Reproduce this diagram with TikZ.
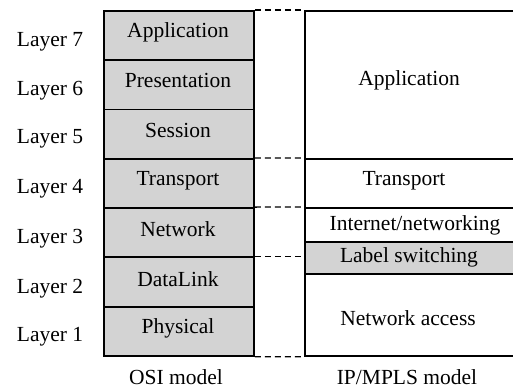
\documentclass[tikz,border=0pt]{standalone}
\usepackage{fontspec}
\setmainfont{Liberation Serif}
\definecolor{boxgray}{RGB}{211,211,211}
\begin{document}
\begin{tikzpicture}[x=1pt,y=-1pt,
  every node/.style={font=\fontsize{21.5}{25}\selectfont, text=black},
  osibox/.style={draw, line width=1.8pt, fill=boxgray, minimum width=150pt, minimum height=49.3pt, inner sep=0pt, anchor=north west},
  ipbox/.style={draw, line width=1.8pt, minimum width=212pt, inner sep=0pt, anchor=north west},
  dashlink/.style={dashed, line width=1.3pt, dash pattern=on 6pt off 4pt}]
\useasboundingbox (0,0) rectangle (513,388);
% OSI stack
\node[osibox] (l7) at (103,10) {};
\node[osibox] (l6) at (103,59.3) {};
\node[osibox] (l5) at (103,108.6) {};
\node[osibox] (l4) at (103,157.9) {};
\node[osibox] (l3) at (103,207.1) {};
\node[osibox] (l2) at (103,256.4) {};
\node[osibox] (l1) at (103,305.7) {};
\node (t7) at (178,32) {Application};
\node (t6) at (178,80) {Presentation};
\node (t5) at (178,130) {Session};
\node (t4) at (178,181) {Transport};
\node (t3) at (178,229) {Network};
\node (t2) at (178,279) {DataLink};
\node (t1) at (178,328) {Physical};
% layer labels
\node (n7) at (50,42) {Layer 7};
\node (n6) at (50,91) {Layer 6};
\node (n5) at (50,139) {Layer 5};
\node (n4) at (50,189) {Layer 4};
\node (n3) at (50,239) {Layer 3};
\node (n2) at (50,289) {Layer 2};
\node (n1) at (50,337) {Layer 1};
% IP/MPLS stack
\node[ipbox, minimum height=148pt] (rapp) at (304,10) {};
\node[ipbox, minimum height=49pt] (rtr) at (304,158) {};
\node[ipbox, minimum height=34pt] (rnet) at (304,207) {};
\node[ipbox, minimum height=32pt, fill=boxgray] (rlab) at (304,241) {};
\node[ipbox, minimum height=82pt] (racc) at (304,273) {};
\node (ta) at (409,80) {Application};
\node (tt) at (404,181) {Transport};
\node (tn) at (415,225) {Internet/networking};
\node (tl) at (409,257) {Label switching};
\node (tc) at (408,318) {Network access};
% dashed links
\draw[dashlink] (l7.north east) -- (rapp.north west);
\draw[dashlink] (l4.north east) -- (rtr.north west);
\draw[dashlink] (l3.north east) -- (rnet.north west);
\draw[dashlink] (l2.north east) -- (l2.north east -| rlab.west);
\draw[dashlink] (l1.south east) -- (racc.south west);
% captions
\node (c1) at (176,377) {OSI model};
\node (c2) at (407,377) {IP/MPLS model};
\end{tikzpicture}
\end{document}
